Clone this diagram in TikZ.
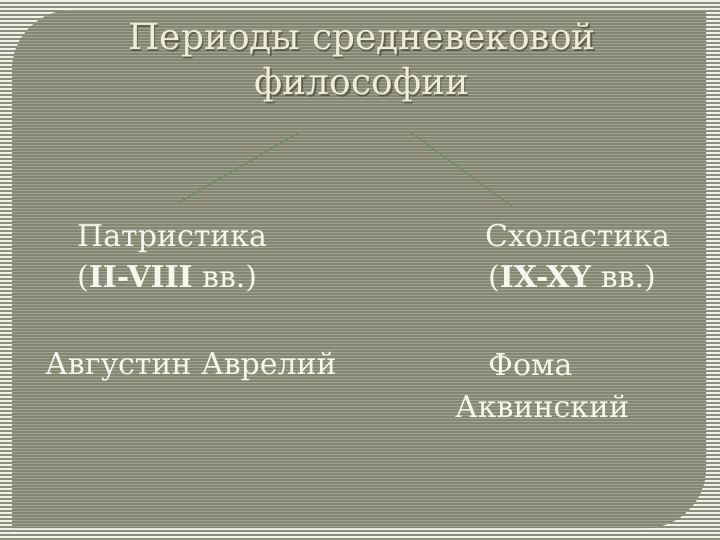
\documentclass[tikz,border=0pt]{standalone}
\usepackage{fontspec}
\setmainfont{DejaVu Serif}
\definecolor{outerlight}{HTML}{F2F2EA}
\definecolor{outerdark}{HTML}{8E8E7E}
\definecolor{innerbase}{HTML}{858574}
\definecolor{innerlight}{HTML}{A3A391}
\definecolor{titlecol}{HTML}{EEEED6}
\definecolor{shadowcol}{HTML}{3E3E34}
\definecolor{textcol}{HTML}{F6F6EE}
\definecolor{linkcol}{HTML}{6E8E64}
\tikzset{
  titletext/.style={text=titlecol, font=\fontsize{36}{44}\selectfont, inner sep=0pt, anchor=base},
  titleshadow/.style={titletext, text=shadowcol, opacity=0.6},
  bodytext/.style={text=textcol, font=\fontsize{30}{36}\selectfont, inner sep=0pt, anchor=base west},
  link/.style={draw=linkcol, line width=1.4pt}
}
\begin{document}
\begin{tikzpicture}[x=1pt,y=-1pt]
\useasboundingbox (0,0) rectangle (720,540);
% outer stripes
\fill[outerlight] (0,0) rectangle (720,540);
\foreach \i in {0,...,135} {
  \fill[outerdark] (0,{4*\i+2}) rectangle (720,{4*\i+4});
}
% inner panel
\begin{scope}
\clip (12,70) arc[start angle=180,end angle=270,radius=60] -- (706,10) -- (706,468)
      arc[start angle=0,end angle=90,radius=60] -- (12,528) -- cycle;
\fill[innerbase] (0,0) rectangle (720,540);
\foreach \i in {0,...,180} {
  \fill[innerlight] (0,{3*\i+1}) rectangle (720,{3*\i+2.2});
}
\end{scope}
% title
\node[titleshadow] (t1s) at (363.5,51.5) {Периоды средневековой};
\node[titleshadow] (t2s) at (363.5,96.5) {философии};
\node[titletext] (t1) at (362,50) {Периоды средневековой};
\node[titletext] (t2) at (362,95) {философии};
% branches
\coordinate (l1) at (298,133);
\coordinate (l2) at (178,203);
\coordinate (r1) at (410,132);
\coordinate (r2) at (513,207);
\draw[link] (l1) -- (l2);
\draw[link] (r1) -- (r2);
% left column
\node[bodytext] (p1) at (77,247) {Патристика};
\node[bodytext] (p2) at (77,287) {(\textbf{II-VIII} вв.)};
\node[bodytext] (a1) at (45,374) {Августин Аврелий};
% right column
\node[bodytext] (s1) at (485,247) {Схоластика};
\node[bodytext] (s2) at (488,287) {(\textbf{IX-XY} вв.)};
\node[bodytext] (f1) at (488,375) {Фома};
\node[bodytext] (f2) at (455,417) {Аквинский};
\end{tikzpicture}
\end{document}
